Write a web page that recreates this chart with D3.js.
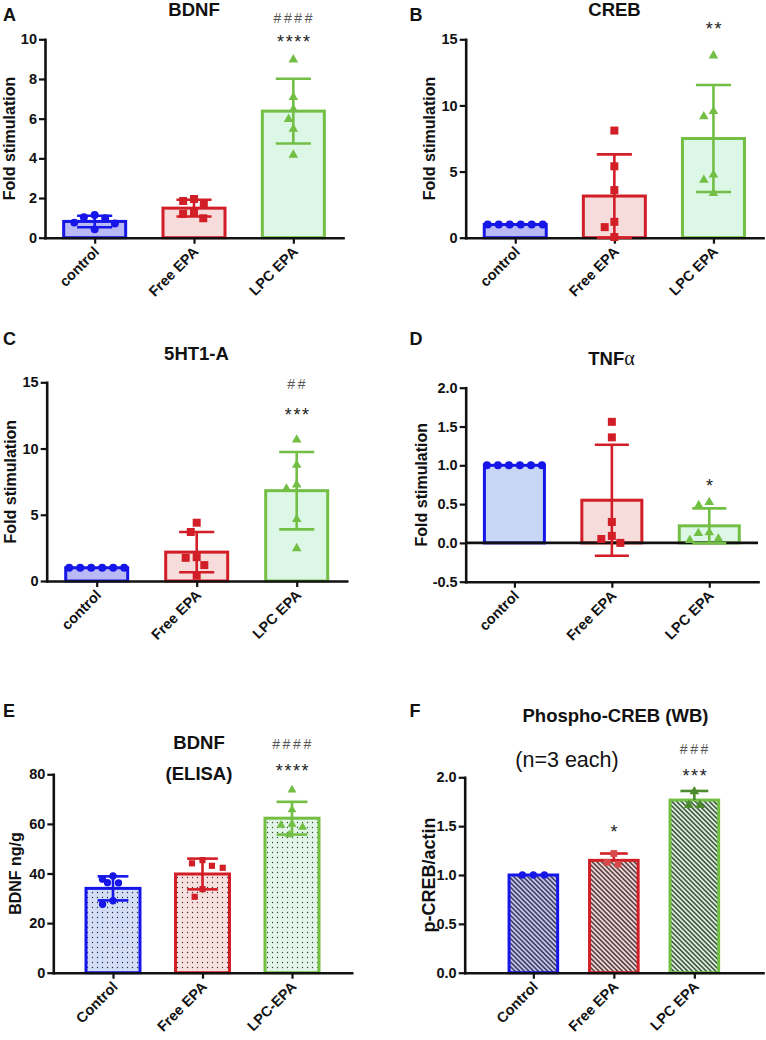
<!DOCTYPE html>
<html><head><meta charset="utf-8">
<script src="https://cdn.jsdelivr.net/npm/d3@7"></script>
<style>
body{margin:0;background:#fff}
svg{display:block}
text{font-family:"Liberation Sans",Arial,Helvetica,sans-serif}
</style>
</head><body>
<svg id="c" width="766" height="1040"></svg>
<script>
// ---------------- DATA ----------------
const catsFold = ["control", "Free EPA", "LPC EPA"];
const catsElisa = ["Control", "Free EPA", "LPC-EPA"];
const catsWB = ["Control", "Free EPA", "LPC EPA"];

// A: BDNF (fold stimulation)
const bdnfMean = [0.82, 1.49, 6.38];
const bdnfSD = [0.29, 0.42, 1.63];
const bdnfPoints = [[1.03, 0.76, 1.14, 0.72, 0.98, 0.42], [1.85, 1.95, 1.70, 1.28, 0.98, 1.20], [9.0, 7.1, 6.5, 6.0, 5.5, 4.2]];
const bdnfStars = ["", "", "****"];
const bdnfHash = ["", "", "####"];

// B: CREB
const crebMean = [1.0, 3.15, 7.5];
const crebSD = [0, 3.15, 4.05];
const crebPoints = [[1, 1, 1, 1, 1, 1], [8.1, 5.4, 3.6, 1.2, 0.8, 0.05], [13.8, 9.6, 9.2, 4.8, 4.4, 3.4]];
const crebStars = ["", "", "**"];
const crebHash = ["", "", ""];

// C: 5HT1-A
const htMean = [1.0, 2.18, 6.82];
const htSD = [0, 1.52, 2.92];
const htPoints = [[1, 1, 1, 1, 1, 1], [4.4, 3.7, 1.8, 1.75, 1.2, 0.4], [10.7, 8.8, 7.3, 7.0, 4.7, 2.5]];
const htStars = ["", "", "***"];
const htHash = ["", "", "##"];

// D: TNFalpha
const tnfMean = [1.0, 0.55, 0.22];
const tnfSD = [0, 0.715, 0.225];
const tnfPoints = [[1, 1, 1, 1, 1, 1], [1.56, 1.36, 0.27, 0.09, 0.0, 0.05], [0.53, 0.49, 0.13, 0.14, 0.04, 0.06]];
const tnfStars = ["", "", "*"];
const tnfHash = ["", "", ""];

// E: BDNF ELISA (ng/g)
const elisaMean = [34.0, 39.8, 62.3];
const elisaSD = [4.85, 6.2, 6.6];
const elisaPoints = [[39.0, 37.7, 36.3, 36.2, 29.0, 27.6], [45.4, 44.1, 43.1, 42.3, 33.7, 30.6], [73.9, 65.9, 60.1, 59.7, 58.9, 55.8]];
const elisaStars = ["", "", "****"];
const elisaHash = ["", "", "####"];

// F: Phospho-CREB (WB)
const wbMean = [1.0, 1.15, 1.767];
const wbSD = [0, 0.07, 0.093];
const wbPoints = [[1, 1, 1], [1.22, 1.11, 1.13], [1.86, 1.72, 1.72]];
const wbStars = ["", "*", "***"];
const wbHash = ["", "", "###"];

// ---------------- STYLE / LAYOUT ----------------
const BLUE = "#1616e8", RED = "#d21e26", GREEN = "#72bf44";
const strokes = [BLUE, RED, GREEN];
const shapes = [d3.symbolCircle, d3.symbolSquare, d3.symbolTriangle];

const svg = d3.select("#c");
const defs = svg.append("defs");
function dotPattern(id, bg, dot) {
  const p = defs.append("pattern").attr("id", id).attr("patternUnits", "userSpaceOnUse").attr("width", 5).attr("height", 5);
  p.append("rect").attr("width", 5).attr("height", 5).attr("fill", bg);
  p.append("circle").attr("cx", 2.5).attr("cy", 2.5).attr("r", 0.65).attr("fill", dot);
}
function hatchPattern(id, bg, line) {
  const s = 3.3;
  const p = defs.append("pattern").attr("id", id).attr("patternUnits", "userSpaceOnUse")
    .attr("width", s).attr("height", s).attr("patternTransform", "rotate(-45)");
  p.append("rect").attr("width", s).attr("height", s).attr("fill", bg);
  p.append("line").attr("x1", 0.8).attr("x2", 0.8).attr("y1", -1).attr("y2", s + 1).attr("stroke", line).attr("stroke-width", 1.3);
}
dotPattern("dotB", "#d3ddf4", "#1d2a60");
dotPattern("dotR", "#f6e0e0", "#5a2a2a");
dotPattern("dotG", "#e3f5e8", "#2a4a2a");
hatchPattern("hatB", "#c4c4f0", "#24243e");
hatchPattern("hatR", "#f2d6d6", "#332424");
hatchPattern("hatG", "#daf2da", "#243324");

const fmtInt = d => d3.format("d")(d);
const fmt1 = d => d.toFixed(1);

const panels = [
  { letter: "A", lx: 3, ly: 21, title: ["BDNF"], tx: 194, ty: [16], cats: catsFold, mean: bdnfMean, sd: bdnfSD, pts: bdnfPoints,
    stars: bdnfStars, hash: bdnfHash, starY: [0, 0, 9.55], hashY: [0, 0, 10.81],
    x0: 45, x1: 343, yTop: 39.3, yBot: 237.7, domain: [0, 10], ticks: [0, 2, 4, 6, 8, 10], fmt: fmtInt, pad: 0.5, bw: 65,
    ylab: "Fold stimulation", ylx: 15, ylsize: 16, fills: ["#b9b9f6", "#f7dcdc", "#ddf7e6"], sym: [50, 64, 40], D: 11, up: false },
  { letter: "B", lx: 409.5, ly: 21, title: ["CREB"], tx: 614.5, ty: [16], cats: catsFold, mean: crebMean, sd: crebSD, pts: crebPoints,
    stars: crebStars, hash: crebHash, starY: [0, 0, 15.3], hashY: [0, 0, 0],
    x0: 465.7, x1: 763, yTop: 39.3, yBot: 237.7, domain: [0, 15], ticks: [0, 5, 10, 15], fmt: fmtInt, pad: 0.5, bw: 65,
    ylab: "Fold stimulation", ylx: 434.5, ylsize: 16, fills: ["#b9b9f6", "#f7dcdc", "#ddf7e6"], sym: [50, 64, 40], D: 11, up: false },
  { letter: "C", lx: 3, ly: 345, title: ["5HT1-A"], tx: 196.5, ty: [359.5], cats: catsFold, mean: htMean, sd: htSD, pts: htPoints,
    stars: htStars, hash: htHash, starY: [0, 0, 12.08], hashY: [0, 0, 14.53],
    x0: 46.7, x1: 346.7, yTop: 382.3, yBot: 581, domain: [0, 15], ticks: [0, 5, 10, 15], fmt: fmtInt, pad: 0.5, bw: 65,
    ylab: "Fold stimulation", ylx: 16, ylsize: 16, fills: ["#b9b9f6", "#f7dcdc", "#ddf7e6"], sym: [50, 64, 40], D: 11, up: false },
  { letter: "D", lx: 409.5, ly: 345, title: ["TNF", "α"], tx: 611.5, ty: [365], cats: catsFold, mean: tnfMean, sd: tnfSD, pts: tnfPoints,
    stars: tnfStars, hash: tnfHash, starY: [0, 0, 0.655], hashY: [0, 0, 0],
    x0: 465.7, x1: 758, yTop: 387.7, yBot: 581.7, domain: [-0.5, 2], ticks: [-0.5, 0, 0.5, 1, 1.5, 2], fmt: fmt1, pad: 0.5, bw: 63,
    ylab: "Fold stimulation", ylx: 427, ylsize: 16, fills: ["#c7d6f4", "#f7dcdc", "#ddf7e6"], sym: [50, 64, 40], D: 11, up: false },
  { letter: "E", lx: 3, ly: 717, title: ["BDNF", "(ELISA)"], tx: 199, ty: [749, 779.5], cats: catsElisa, mean: elisaMean, sd: elisaSD, pts: elisaPoints,
    stars: elisaStars, hash: elisaHash, starY: [0, 0, 79.0], hashY: [0, 0, 90.4],
    x0: 53.3, x1: 351.7, yTop: 774.3, yBot: 972.7, domain: [0, 80], ticks: [0, 20, 40, 60, 80], fmt: fmtInt, pad: 0.667, bw: 57,
    ylab: "BDNF ng/g", ylx: 20.5, ylsize: 16, fills: ["url(#dotB)", "url(#dotR)", "url(#dotG)"], sym: [42, 38, 34], D: 11, up: false },
  { letter: "F", lx: 409.5, ly: 717, title: ["Phospho-CREB (WB)"], tx: 615.5, ty: [721.5], cats: catsWB, mean: wbMean, sd: wbSD, pts: wbPoints,
    stars: wbStars, hash: wbHash, starY: [0, 1.38, 1.955], hashY: [0, 0, 2.238],
    x0: 464.7, x1: 763, yTop: 777.3, yBot: 972.7, domain: [0, 2], ticks: [0, 0.5, 1, 1.5, 2], fmt: fmt1, pad: 0.853, bw: 51.6,
    ylab: "p-CREB/actin", ylx: 435, ylsize: 18, fills: ["url(#hatB)", "url(#hatR)", "url(#hatG)"], sym: [42, 46, 40], D: 11, up: true,
    ptColors: [BLUE, "#d84a4a", "#4b8b2b"], errColors: [BLUE, RED, "#4b8b2b"] }
];

// simple beeswarm: identical values centered in a row, others avoid overlaps
function swarm(ys, D) {
  const idx = ys.map((y, i) => i).sort((a, b) => ys[a] - ys[b]);
  const xs = new Array(ys.length).fill(0);
  const placed = [];
  let i = 0;
  while (i < idx.length) {
    let j = i;
    while (j + 1 < idx.length && Math.abs(ys[idx[j + 1]] - ys[idx[i]]) < 0.3) j++;
    const k = j - i + 1;
    if (k > 1) {
      for (let m = 0; m < k; m++) { xs[idx[i + m]] = (m - (k - 1) / 2) * D; placed.push({ x: xs[idx[i + m]], y: ys[idx[i + m]] }); }
    } else {
      const y = ys[idx[i]];
      const cands = [0];
      placed.forEach(p => { const dy = Math.abs(p.y - y); if (dy < D) { const dx = Math.sqrt(D * D - dy * dy); cands.push(p.x + dx, p.x - dx); } });
      const ok = cands.filter(c => placed.every(p => Math.hypot(p.x - c, p.y - y) >= D - 1e-6));
      ok.sort((a, b) => Math.abs(a) - Math.abs(b) || a - b);
      xs[idx[i]] = ok[0];
      placed.push({ x: ok[0], y: y });
    }
    i = j + 1;
  }
  return xs;
}

panels.forEach(P => {
  const g = svg.append("g");
  const x = d3.scalePoint().domain(P.cats).range([P.x0, P.x1]).padding(P.pad);
  const y = d3.scaleLinear().domain(P.domain).range([P.yBot, P.yTop]);
  const ptColors = P.ptColors || strokes;
  const errColors = P.errColors || strokes;
  const y0 = y(0);

  // bars
  g.selectAll("rect.bar").data(P.cats).join("rect")
    .attr("x", d => x(d) - P.bw / 2 + 1.5)
    .attr("width", P.bw - 3)
    .attr("y", (d, i) => Math.min(y(P.mean[i]), y0))
    .attr("height", (d, i) => Math.abs(y0 - y(P.mean[i])))
    .attr("fill", (d, i) => P.fills[i])
    .attr("stroke", (d, i) => strokes[i])
    .attr("stroke-width", 3);

  // axes
  const yAx = g.append("g").attr("transform", `translate(${P.x0},0)`)
    .call(d3.axisLeft(y).tickValues(P.ticks).tickFormat(P.fmt).tickSize(6).tickSizeOuter(0).tickPadding(2));
  const xAx = g.append("g").attr("transform", `translate(0,${P.yBot})`)
    .call(d3.axisBottom(x).tickSize(6).tickSizeOuter(0));
  [yAx, xAx].forEach(a => {
    a.select(".domain").attr("stroke", "#111").attr("stroke-width", 2.6).attr("stroke-linecap", "square");
    a.selectAll(".tick line").attr("stroke", "#111").attr("stroke-width", 2.2);
  });
  yAx.selectAll(".tick text").attr("font-family", "Liberation Sans, Arial, sans-serif")
    .attr("font-size", 14.5).attr("font-weight", "bold").attr("fill", "#111");
  xAx.selectAll(".tick text").attr("font-family", "Liberation Sans, Arial, sans-serif")
    .attr("font-size", 14.5).attr("font-weight", "bold").attr("fill", "#111")
    .attr("x", 0).attr("y", 0).attr("dy", 0).attr("text-anchor", "end")
    .attr("transform", "translate(5,15) rotate(-45)");

  if (P.domain[0] < 0) {
    g.append("line").attr("x1", P.x0).attr("x2", P.x1).attr("y1", y0).attr("y2", y0)
      .attr("stroke", "#111").attr("stroke-width", 2.6);
  }

  // error bars
  P.cats.forEach((c, i) => {
    if (!(P.sd[i] > 0)) return;
    const cx = x(c), hi = y(P.mean[i] + P.sd[i]), lo = P.up ? y(P.mean[i]) : y(P.mean[i] - P.sd[i]);
    const cw = P.bw * 0.27;
    const col = errColors[i];
    g.append("line").attr("x1", cx).attr("x2", cx).attr("y1", hi).attr("y2", lo).attr("stroke", col).attr("stroke-width", 2.6);
    g.append("line").attr("x1", cx - cw).attr("x2", cx + cw).attr("y1", hi).attr("y2", hi).attr("stroke", col).attr("stroke-width", 2.6);
    if (!P.up) g.append("line").attr("x1", cx - cw).attr("x2", cx + cw).attr("y1", lo).attr("y2", lo).attr("stroke", col).attr("stroke-width", 2.6);
  });

  // points
  P.cats.forEach((c, i) => {
    const ys = P.pts[i].map(v => y(v));
    const xs = swarm(ys, P.D);
    const sym = d3.symbol().type(shapes[i]).size(P.sym[i]);
    g.selectAll(null).data(P.pts[i]).join("path")
      .attr("d", sym)
      .attr("transform", (v, k) => `translate(${x(c) + xs[k]},${ys[k] + (i === 2 ? 0.5 : 0)})`)
      .attr("fill", ptColors[i]);
  });

  // significance annotations
  P.cats.forEach((c, i) => {
    if (P.hash[i]) g.append("text").attr("x", x(c) + 1).attr("y", y(P.hashY[i]))
      .attr("text-anchor", "middle").attr("font-size", 14).attr("letter-spacing", 2.6).attr("fill", "#555").text(P.hash[i]);
    if (P.stars[i]) g.append("text").attr("x", x(c) + 1).attr("y", y(P.starY[i]))
      .attr("text-anchor", "middle").attr("font-size", 18).attr("letter-spacing", 1.6).attr("fill", "#222").text(P.stars[i]);
  });

  // y label
  g.append("text").attr("transform", `translate(${P.ylx},${(P.yTop + P.yBot) / 2}) rotate(-90)`)
    .attr("text-anchor", "middle").attr("font-size", P.ylsize).attr("font-weight", "bold").attr("fill", "#111").text(P.ylab);

  // title
  if (P.title.length === 2 && P.letter === "D") {
    const t = g.append("text").attr("x", P.tx).attr("y", P.ty[0]).attr("text-anchor", "middle")
      .attr("font-size", 18.5).attr("font-weight", "bold").attr("fill", "#111");
    t.append("tspan").text(P.title[0]);
    t.append("tspan").attr("font-family", "Liberation Serif, serif").attr("font-weight", "normal").attr("font-size", 20).text(P.title[1]);
  } else {
    P.title.forEach((s, k) => g.append("text").attr("x", P.tx).attr("y", P.ty[k]).attr("text-anchor", "middle")
      .attr("font-size", 18.5).attr("font-weight", "bold").attr("fill", "#111").text(s));
  }
  // panel letter
  g.append("text").attr("x", P.lx).attr("y", P.ly).attr("font-size", 18).attr("font-weight", "bold").attr("fill", "#111").text(P.letter);
});

// extra note in F
svg.append("text").attr("x", 567).attr("y", 766.5).attr("text-anchor", "middle")
  .attr("font-size", 21.5).attr("fill", "#111").text("(n=3 each)");
</script>
</body></html>
